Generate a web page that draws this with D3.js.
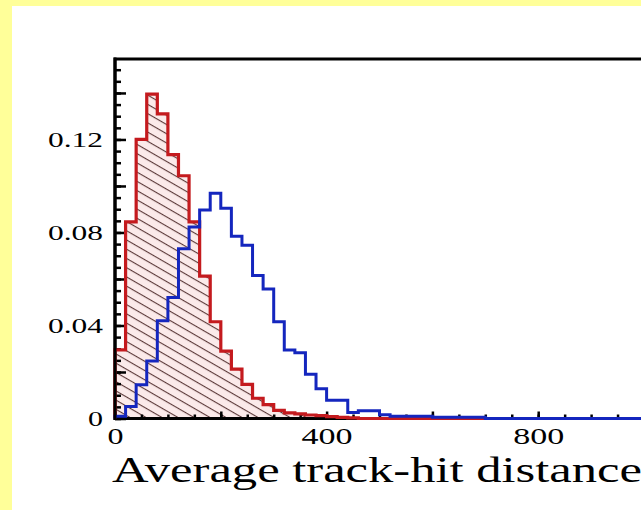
<!DOCTYPE html>
<html>
<head>
<meta charset="utf-8">
<script src="https://cdn.jsdelivr.net/npm/d3@7"></script>
<style>
  html, body { margin: 0; padding: 0; background: #ffff99; }
  svg { display: block; }
</style>
</head>
<body>
<svg id="chart" width="641" height="510"></svg>
<script>
// Histogram bins: lower edges (width 20) over the 0–1000 range
const binWidth = 20;
const binStarts = d3.range(0, 1000, binWidth);

// Normalised entries per bin, red (hatched) sample
const redValues = [
  0.0295, 0.0846, 0.1200, 0.1395, 0.1310, 0.1135, 0.1044, 0.0846, 0.0612, 0.0416,
  0.0290, 0.0212, 0.0147, 0.0087, 0.0060, 0.0035, 0.0024, 0.0020, 0.0015, 0.0012,
  0.0008, 0.0005, 0.0003, 0, 0, 0, 0, 0, 0, 0,
  0, 0, 0, 0, 0, 0, 0, 0, 0, 0,
  0, 0, 0, 0, 0, 0, 0, 0, 0, 0
];

// Normalised entries per bin, blue sample
const blueValues = [
  0.0010, 0.0052, 0.0145, 0.0247, 0.0420, 0.0520, 0.0730, 0.0824, 0.0897, 0.0969,
  0.0904, 0.0784, 0.0745, 0.0615, 0.0557, 0.0416, 0.0295, 0.0283, 0.0190, 0.0128,
  0.0079, 0.0079, 0.0026, 0.0033, 0.0033, 0.0016, 0.0010, 0.0010, 0.0010, 0.0010,
  0.0005, 0.0005, 0.0005, 0.0005, 0.0005, 0, 0, 0, 0, 0,
  0, 0, 0, 0, 0, 0, 0, 0, 0, 0
];

const yLabelTicks = [0, 0.04, 0.08, 0.12];
const xLabelTicks = [0, 400, 800];
const xTitle = "Average track-hit distance";

const svg = d3.select("#chart");

// white panel on the yellow page
svg.append("rect")
  .attr("x", 12).attr("y", 6)
  .attr("width", 641 - 12).attr("height", 510 - 6)
  .attr("fill", "#ffffff");

const x = d3.scaleLinear().domain([0, 1000]).range([115, 644]);
const y = d3.scaleLinear().domain([0, 0.1546]).range([418.5, 59]);

// hatch pattern for the red histogram
const defs = svg.append("defs");
const pat = defs.append("pattern")
  .attr("id", "hatch")
  .attr("patternUnits", "userSpaceOnUse")
  .attr("width", 8).attr("height", 8)
  .attr("patternTransform", "rotate(30)");
pat.append("rect").attr("width", 8).attr("height", 8).attr("fill", "#fbeaea");
pat.append("line")
  .attr("x1", 0).attr("y1", 0.6).attr("x2", 8).attr("y2", 0.6)
  .attr("stroke", "#4a2626").attr("stroke-width", 1);

// step outline of a histogram through the scales
function stepPoints(values) {
  const pts = [[x(binStarts[0]), y(0)]];
  values.forEach((v, i) => {
    pts.push([x(binStarts[i]), y(v)]);
    pts.push([x(binStarts[i] + binWidth), y(v)]);
  });
  pts.push([x(binStarts[values.length - 1] + binWidth), y(0)]);
  return pts;
}
const line = d3.line();

// red: hatched fill
svg.append("path")
  .attr("d", line(stepPoints(redValues)) + "Z")
  .attr("fill", "url(#hatch)")
  .attr("stroke", "none");

// axis ticks (inward)
const yMinor = d3.range(0, 0.1546, 0.005);
const yMajor = d3.range(0, 0.1546, 0.02);
const xMinor = d3.range(0, 1001, 50);
const xMajor = d3.range(0, 1001, 200);

const gTicks = svg.append("g");
gTicks.append("g")
  .attr("transform", `translate(${x(0)},0)`)
  .call(d3.axisLeft(y).tickValues(yMinor).tickSize(-6).tickFormat(""))
  .call(g => g.select(".domain").remove());
gTicks.append("g")
  .attr("transform", `translate(${x(0)},0)`)
  .call(d3.axisLeft(y).tickValues(yMajor).tickSize(-11).tickFormat(""))
  .call(g => g.select(".domain").remove());
gTicks.append("g")
  .attr("transform", `translate(0,${y(0)})`)
  .call(d3.axisBottom(x).tickValues(xMinor).tickSize(-4).tickFormat(""))
  .call(g => g.select(".domain").remove());
gTicks.append("g")
  .attr("transform", `translate(0,${y(0)})`)
  .call(d3.axisBottom(x).tickValues(xMajor).tickSize(-7).tickFormat(""))
  .call(g => g.select(".domain").remove());
gTicks.selectAll("line").attr("stroke", "#000").attr("stroke-width", 2.5);

// frame
svg.append("rect")
  .attr("x", x(0)).attr("y", y(0.1546))
  .attr("width", x(1000) - x(0)).attr("height", y(0) - y(0.1546))
  .attr("fill", "none").attr("stroke", "#000").attr("stroke-width", 3);

// outlines
svg.append("path")
  .attr("d", line(stepPoints(redValues)))
  .attr("fill", "none")
  .attr("stroke", "#c41a1e").attr("stroke-width", 3.2)
  .attr("stroke-linejoin", "miter");

svg.append("path")
  .attr("d", line(stepPoints(blueValues)))
  .attr("fill", "none")
  .attr("stroke", "#1426be").attr("stroke-width", 3)
  .attr("stroke-linejoin", "miter");

// left axis line on top
svg.append("line")
  .attr("x1", x(0)).attr("x2", x(0))
  .attr("y1", y(0.1546) - 1.5).attr("y2", y(0) + 1.5)
  .attr("stroke", "#000").attr("stroke-width", 3);

// tick labels
const fontFamily = "'Liberation Serif', 'Times New Roman', serif";
const yAxisLabels = svg.append("g")
  .attr("transform", `translate(${x(0)},0)`)
  .call(d3.axisLeft(y).tickValues(yLabelTicks).tickSize(0).tickPadding(12)
    .tickFormat(d => d === 0 ? "0" : d.toFixed(2)));
yAxisLabels.select(".domain").remove();
yAxisLabels.selectAll("text")
  .attr("font-family", fontFamily).attr("font-size", 22).attr("fill", "#000")
  .attr("textLength", d => d === 0 ? 15 : 55)
  .attr("lengthAdjust", "spacingAndGlyphs");

const xAxisLabels = svg.append("g")
  .attr("transform", `translate(0,${y(0)})`)
  .call(d3.axisBottom(x).tickValues(xLabelTicks).tickSize(0).tickPadding(8)
    .tickFormat(d3.format("d")));
xAxisLabels.select(".domain").remove();
xAxisLabels.selectAll("text")
  .attr("font-family", fontFamily).attr("font-size", 24).attr("fill", "#000")
  .attr("textLength", d => d === 0 ? 16 : 51)
  .attr("lengthAdjust", "spacingAndGlyphs");

// axis title
svg.append("text")
  .attr("x", 377).attr("y", 482)
  .attr("text-anchor", "middle")
  .attr("font-family", fontFamily).attr("font-size", 36).attr("fill", "#000")
  .attr("textLength", 530).attr("lengthAdjust", "spacingAndGlyphs")
  .text(xTitle);
</script>
</body>
</html>
